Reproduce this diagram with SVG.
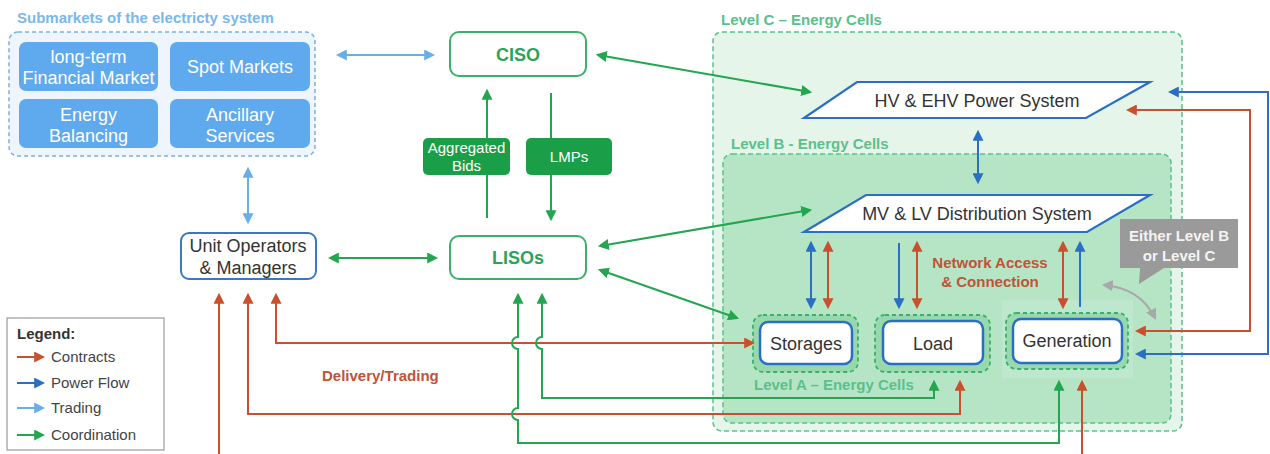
<svg xmlns="http://www.w3.org/2000/svg" width="1270" height="454" viewBox="0 0 1270 454">
  <style>
    text { font-family: "Liberation Sans", Arial, sans-serif; }
    .market { fill: #5faaee; }
    .marketTxt { fill: #ffffff; font-size: 18px; text-anchor: middle; }
    .gBox { fill: #ffffff; stroke: #3cb068; stroke-width: 2; }
    .gTxt { fill: #2ba35a; font-size: 18px; font-weight: bold; text-anchor: middle; }
    .lbl { fill: #1a9e48; }
    .lblTxt { fill: #ffffff; font-size: 15px; text-anchor: middle; }
    .cellOuter { fill: #97d9ad; stroke: #3bb06a; stroke-width: 1.8; stroke-dasharray: 4 3; }
    .cellInner { fill: #ffffff; stroke: #2a6fc4; stroke-width: 2.5; }
    .cellTxt { fill: #333333; font-size: 18px; text-anchor: middle; }
    .para { fill: #ffffff; stroke: #2a6fc4; stroke-width: 2.2; }
    .paraTxt { fill: #333333; font-size: 18px; text-anchor: middle; }
    .levelTxt { fill: #5cc08a; font-size: 15px; font-weight: bold; }
    .redTxt { fill: #c0533a; font-size: 15px; font-weight: bold; }
    .red { stroke: #c8502c; stroke-width: 2; fill: none; }
    .blue { stroke: #2a6fc4; stroke-width: 2; fill: none; }
    .lblue { stroke: #6aaee8; stroke-width: 2; fill: none; }
    .green { stroke: #22a650; stroke-width: 2; fill: none; }
    .gray { stroke: #a8a8a8; stroke-width: 2; fill: none; }
    .legTxt { fill: #444444; font-size: 15px; }
  </style>
  <defs>
    <marker id="mR" viewBox="0 0 10 10" refX="8" refY="5" markerWidth="11" markerHeight="11" markerUnits="userSpaceOnUse" orient="auto-start-reverse"><path d="M0,0 L10,5 L0,10 z" fill="#c8502c"/></marker>
    <marker id="mB" viewBox="0 0 10 10" refX="8" refY="5" markerWidth="11" markerHeight="11" markerUnits="userSpaceOnUse" orient="auto-start-reverse"><path d="M0,0 L10,5 L0,10 z" fill="#2a6fc4"/></marker>
    <marker id="mLB" viewBox="0 0 10 10" refX="8" refY="5" markerWidth="11" markerHeight="11" markerUnits="userSpaceOnUse" orient="auto-start-reverse"><path d="M0,0 L10,5 L0,10 z" fill="#6aaee8"/></marker>
    <marker id="mG" viewBox="0 0 10 10" refX="8" refY="5" markerWidth="11" markerHeight="11" markerUnits="userSpaceOnUse" orient="auto-start-reverse"><path d="M0,0 L10,5 L0,10 z" fill="#22a650"/></marker>
    <marker id="mGr" viewBox="0 0 10 10" refX="8" refY="5" markerWidth="11" markerHeight="11" markerUnits="userSpaceOnUse" orient="auto-start-reverse"><path d="M0,0 L10,5 L0,10 z" fill="#a8a8a8"/></marker>
  </defs>

  <rect width="1270" height="454" fill="#ffffff"/>

  <!-- Submarkets -->
  <g id="submarkets">
    <text x="17" y="23" style="fill:#7ab8ea;font-size:15px;font-weight:bold">Submarkets of the electricty system</text>
    <rect x="9" y="32" width="306" height="124" rx="9" fill="#eef5fc" stroke="#7ab0dd" stroke-width="1.5" stroke-dasharray="4 3"/>
    <rect class="market" x="19" y="42" width="139" height="49" rx="7"/>
    <text class="marketTxt" x="88.5" y="63">long-term</text>
    <text class="marketTxt" x="88.5" y="84">Financial Market</text>
    <rect class="market" x="170" y="42" width="140" height="49" rx="7"/>
    <text class="marketTxt" x="240" y="73">Spot Markets</text>
    <rect class="market" x="19" y="99" width="139" height="49" rx="7"/>
    <text class="marketTxt" x="88.5" y="121">Energy</text>
    <text class="marketTxt" x="88.5" y="142">Balancing</text>
    <rect class="market" x="170" y="99" width="140" height="49" rx="7"/>
    <text class="marketTxt" x="240" y="121">Ancillary</text>
    <text class="marketTxt" x="240" y="142">Services</text>
  </g>

  <!-- Level C / Level B containers -->
  <g id="levelC">
    <text class="levelTxt" x="721" y="25">Level C – Energy Cells</text>
    <rect x="713" y="32" width="469" height="399" rx="9" fill="#e6f5ea" stroke="#5cc08a" stroke-width="1.5" stroke-dasharray="5 3"/>
  </g>
  <g id="levelB">
    <text class="levelTxt" x="731" y="149">Level B - Energy Cells</text>
    <rect x="723" y="154" width="448" height="269" rx="9" fill="#b6e5c6" stroke="#5cc08a" stroke-width="1.5" stroke-dasharray="5 3"/>
  </g>

  <!-- Operators -->
  <g id="ciso">
    <rect class="gBox" x="450" y="32" width="136" height="44" rx="9"/>
    <text class="gTxt" x="518" y="61">CISO</text>
  </g>
  <g id="lisos">
    <rect class="gBox" x="450" y="236" width="136" height="43" rx="9"/>
    <text class="gTxt" x="518" y="264">LISOs</text>
  </g>
  <g id="unit-operators">
    <rect x="181" y="233" width="135" height="46" rx="8" fill="#ffffff" stroke="#3a78c0" stroke-width="2"/>
    <text x="248" y="252" style="fill:#333;font-size:18px;text-anchor:middle">Unit Operators</text>
    <text x="248" y="274" style="fill:#333;font-size:18px;text-anchor:middle">&amp; Managers</text>
  </g>

  <!-- Power system layers -->
  <g id="hv-system">
    <polygon class="para" points="857,82 1150,82 1086,118 804,118"/>
    <text class="paraTxt" x="977" y="107">HV &amp; EHV Power System</text>
  </g>
  <g id="mv-system">
    <polygon class="para" points="866,195 1150,195 1087,232 804,232"/>
    <text class="paraTxt" x="977" y="220">MV &amp; LV Distribution System</text>
  </g>

  <!-- Level A cells -->
  <g id="storages">
    <rect class="cellOuter" x="753" y="315" width="105" height="57" rx="10"/>
    <rect class="cellInner" x="760" y="322" width="92" height="42" rx="8"/>
    <text class="cellTxt" x="806" y="350">Storages</text>
  </g>
  <g id="load">
    <rect class="cellOuter" x="875" y="315" width="115" height="57" rx="10"/>
    <rect class="cellInner" x="883" y="321" width="100" height="43" rx="8"/>
    <text class="cellTxt" x="933" y="350">Load</text>
  </g>
  <g id="generation">
    <rect x="1002" y="300" width="131" height="78" fill="#ffffff" fill-opacity="0.12"/>
    <rect class="cellOuter" x="1006" y="313" width="122" height="56" rx="10"/>
    <rect class="cellInner" x="1013" y="319" width="109" height="44" rx="8"/>
    <text class="cellTxt" x="1067" y="347">Generation</text>
  </g>
  <text class="levelTxt" x="754" y="390">Level A – Energy Cells</text>

  <!-- Callout -->
  <g id="callout">
    <path d="M1120,219 H1238 V268 H1164 L1139,284 L1140,268 H1120 Z" fill="#9a9a9a"/>
    <text x="1179" y="241" style="fill:#f4f4f4;font-size:15px;font-weight:bold;text-anchor:middle">Either Level B</text>
    <text x="1179" y="261" style="fill:#f4f4f4;font-size:15px;font-weight:bold;text-anchor:middle">or Level C</text>
  </g>

  <!-- Connectors -->
  <g id="connectors">
    <!-- trading -->
    <line class="lblue" x1="338" y1="55" x2="433" y2="55" marker-start="url(#mLB)" marker-end="url(#mLB)"/>
    <line class="lblue" x1="248" y1="169" x2="248" y2="222" marker-start="url(#mLB)" marker-end="url(#mLB)"/>

    <!-- coordination -->
    <line class="green" x1="330" y1="258" x2="436" y2="258" marker-start="url(#mG)" marker-end="url(#mG)"/>
    <line class="green" x1="487" y1="218" x2="487" y2="91" marker-end="url(#mG)"/>
    <line class="green" x1="551" y1="93" x2="551" y2="219" marker-end="url(#mG)"/>
    <line class="green" x1="598" y1="55" x2="810" y2="92" marker-start="url(#mG)" marker-end="url(#mG)"/>
    <line class="green" x1="600" y1="246" x2="810" y2="210" marker-start="url(#mG)" marker-end="url(#mG)"/>
    <line class="green" x1="600" y1="270" x2="737" y2="318" marker-start="url(#mG)" marker-end="url(#mG)"/>

    <!-- power flow -->
    <line class="blue" x1="978" y1="132" x2="978" y2="182" marker-start="url(#mB)" marker-end="url(#mB)"/>
    <line class="blue" x1="811" y1="243" x2="811" y2="307" marker-start="url(#mB)" marker-end="url(#mB)"/>
    <line class="blue" x1="899" y1="243" x2="899" y2="307" marker-end="url(#mB)"/>
    <line class="blue" x1="1080" y1="307" x2="1080" y2="243" marker-end="url(#mB)"/>
    <path class="blue" d="M1170,92 H1268 V354 H1137" marker-start="url(#mB)" marker-end="url(#mB)"/>

    <!-- network access contracts -->
    <line class="red" x1="828" y1="243" x2="828" y2="307" marker-start="url(#mR)" marker-end="url(#mR)"/>
    <line class="red" x1="917" y1="243" x2="917" y2="307" marker-start="url(#mR)" marker-end="url(#mR)"/>
    <line class="red" x1="1063" y1="243" x2="1063" y2="307" marker-start="url(#mR)" marker-end="url(#mR)"/>
    <path class="red" d="M1128,110 H1250 V331 H1137" marker-start="url(#mR)" marker-end="url(#mR)"/>

    <!-- delivery / trading contracts -->
    <path class="red" d="M276,295 V343 H753" marker-start="url(#mR)" marker-end="url(#mR)"/>
    <path class="red" d="M248,295 V414 H960 V382" marker-start="url(#mR)" marker-end="url(#mR)"/>
    <path class="red" d="M219,295 V454" marker-start="url(#mR)"/>
    <path class="red" d="M1082,382 V454" marker-start="url(#mR)"/>

    <!-- LISO coordination of cells, hopping over contract lines -->
    <path class="green" d="M518,295 V337 A6,6 0 0 0 518,349 V408 A6,6 0 0 0 518,420 V443 H1059 V382" marker-start="url(#mG)" marker-end="url(#mG)"/>
    <path class="green" d="M542,295 V337 A6,6 0 0 0 542,349 V398 H934 V382" marker-start="url(#mG)" marker-end="url(#mG)"/>

    <!-- either level B or C -->
    <path class="gray" d="M1104,285 Q1140,288 1155,318" marker-start="url(#mGr)" marker-end="url(#mGr)"/>
  </g>

  <!-- Label boxes on the CISO/LISO links -->
  <g id="aggregated-bids">
    <rect class="lbl" x="423" y="138" width="87" height="37" rx="5"/>
    <text class="lblTxt" x="466.5" y="153">Aggregated</text>
    <text class="lblTxt" x="466.5" y="171">Bids</text>
  </g>
  <g id="lmps">
    <rect class="lbl" x="526" y="138" width="86" height="37" rx="5"/>
    <text class="lblTxt" x="569" y="162">LMPs</text>
  </g>

  <text class="redTxt" x="322" y="381">Delivery/Trading</text>
  <text class="redTxt" x="990" y="268" text-anchor="middle">Network Access</text>
  <text class="redTxt" x="990" y="287" text-anchor="middle">&amp; Connection</text>

  <!-- Legend -->
  <g id="legend">
    <rect x="7" y="318" width="157" height="132" fill="#ffffff" stroke="#9a9a9a" stroke-width="1.2"/>
    <text x="17" y="339" style="fill:#333;font-size:15px;font-weight:bold">Legend:</text>
    <line class="red" x1="17" y1="357" x2="43" y2="357" marker-end="url(#mR)"/>
    <text class="legTxt" x="51" y="362">Contracts</text>
    <line class="blue" x1="17" y1="383" x2="43" y2="383" marker-end="url(#mB)"/>
    <text class="legTxt" x="51" y="388">Power Flow</text>
    <line class="lblue" x1="17" y1="408" x2="43" y2="408" marker-end="url(#mLB)"/>
    <text class="legTxt" x="51" y="413">Trading</text>
    <line class="green" x1="17" y1="435" x2="43" y2="435" marker-end="url(#mG)"/>
    <text class="legTxt" x="51" y="440">Coordination</text>
  </g>
</svg>
